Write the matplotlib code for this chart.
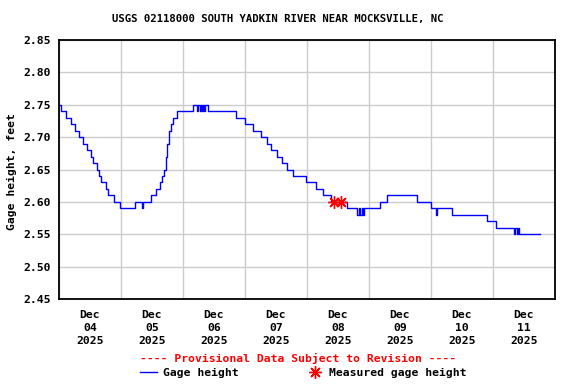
import numpy as np
import pandas as pd
import matplotlib
matplotlib.use("Agg")
import matplotlib.pyplot as plt
import matplotlib.dates as mdates
from matplotlib.lines import Line2D

# gage height, hours after 2025-12-04 00:00 (step changes)
hours = [0, 0.6, 2.7, 4.8, 6.3, 7.9, 9.4, 10.7, 12.3, 13.0, 14.8, 15.6, 16.4,
         18.2, 19.0, 21.3, 23.6, 29.3, 32.2, 32.6, 35.5, 37.5, 39.1, 39.9,
         40.6, 41.4, 41.9, 42.7, 43.5, 44.3, 45.8, 51.9, 53.5, 53.8, 54.5,
         54.8, 55.4, 55.7, 56.3, 56.6, 57.6, 68.7, 72.0, 75.2, 78.3, 80.4,
         82.2, 84.3, 86.3, 88.4, 90.7, 95.6, 99.5, 102.3, 105.2, 111.4, 115.5,
         116.0, 116.7, 117.2, 117.8, 118.2, 124.3, 126.8, 138.5, 143.9, 146.0,
         146.4, 152.1, 165.6, 169.2, 176.0, 176.4, 177.2, 177.6, 178.2, 186.2]
height = [2.75, 2.74, 2.73, 2.72, 2.71, 2.70, 2.69, 2.68, 2.67, 2.66, 2.65,
          2.64, 2.63, 2.62, 2.61, 2.60, 2.59, 2.60, 2.59, 2.60, 2.61, 2.62,
          2.63, 2.64, 2.65, 2.67, 2.69, 2.71, 2.72, 2.73, 2.74, 2.75, 2.74,
          2.75, 2.74, 2.75, 2.74, 2.75, 2.74, 2.75, 2.74, 2.73, 2.72, 2.71,
          2.70, 2.69, 2.68, 2.67, 2.66, 2.65, 2.64, 2.63, 2.62, 2.61, 2.60,
          2.59, 2.58, 2.59, 2.58, 2.59, 2.58, 2.59, 2.60, 2.61, 2.60, 2.59,
          2.58, 2.59, 2.58, 2.57, 2.56, 2.55, 2.56, 2.55, 2.56, 2.55, 2.55]

meas_hours = [106.3, 109.0]
meas_height = [2.60, 2.60]

start = pd.Timestamp("2025-12-04")
t = start + pd.to_timedelta(hours, unit="h")
tm = start + pd.to_timedelta(meas_hours, unit="h")

plt.rcParams['font.family'] = 'DejaVu Sans Mono'
plt.rcParams['font.weight'] = 'bold'

W, H = 576, 384
fig = plt.figure(figsize=(5.76, 3.84), dpi=100)
ax = fig.add_axes([59/W, 1-299/H, 496/W, 259/H])

ax.step(t, height, where='post', color='blue', lw=1.0)
ax.plot(tm, meas_height, ls='none', marker=(8, 2, 0), ms=9, mew=1.0, color='red')

ax.set_xlim(start, start + pd.Timedelta(days=8))
ax.set_ylim(2.45, 2.85)
ax.set_yticks(np.arange(2.45, 2.851, 0.05))
ax.yaxis.set_major_formatter(plt.FormatStrFormatter('%.2f'))

ax.xaxis.set_major_locator(mdates.DayLocator())
ax.xaxis.set_major_formatter(plt.NullFormatter())
ax.xaxis.set_minor_locator(mdates.HourLocator(byhour=[12]))
ax.xaxis.set_minor_formatter(mdates.DateFormatter('%b\n%d\n%Y'))
ax.tick_params(axis='x', which='both', length=0, pad=8, labelsize=8.2)
ax.tick_params(axis='y', length=0, pad=6, labelsize=8.2)
for lab in ax.get_xticklabels(minor=True):
    lab.set_fontweight('bold')
    lab.set_linespacing(1.35)

ax.grid(True, which='major', color='#cccccc', lw=1)
ax.set_axisbelow(True)
for s in ax.spines.values():
    s.set_linewidth(1.3)

fig.text(12/W, 1-172/H, 'Gage height, feet', rotation=90, ha='center', va='center',
         fontsize=8.2, fontweight='bold')
fig.text(278/W, 1-19/H, 'USGS 02118000 SOUTH YADKIN RIVER NEAR MOCKSVILLE, NC',
         ha='center', va='center', fontsize=7.7, fontweight='bold')
fig.text(298/W, 1-358/H, '---- Provisional Data Subject to Revision ----',
         ha='center', va='center', fontsize=8.2, fontweight='bold', color='red')

# legend row
fig.add_artist(Line2D([140/W, 157/W], [1-372/H, 1-372/H], color='blue', lw=1.0))
fig.text(163/W, 1-373/H, 'Gage height', ha='left', va='center', fontsize=8.2,
         fontweight='bold')
fig.add_artist(Line2D([315/W], [1-372/H], ls='none', marker=(8, 2, 0), ms=9,
                      mew=1.0, color='red'))
fig.text(329/W, 1-373/H, 'Measured gage height', ha='left', va='center',
         fontsize=8.2, fontweight='bold')

fig.savefig('out.png', dpi=100)
